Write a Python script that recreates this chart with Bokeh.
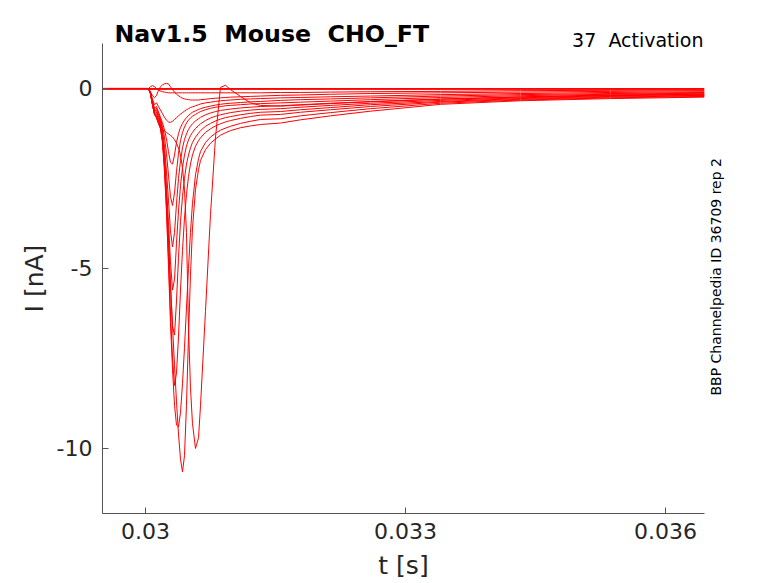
import math
from bokeh.plotting import figure
from bokeh.models import Range1d, FixedTicker, LinearAxis, Title
from bokeh.embed import file_html
from bokeh.resources import INLINE

# ---- data (time in s, current in nA) ----
t_s = [0.029500, 0.030000, 0.030035, 0.030058, 0.030081, 0.030104, 0.030127, 0.030150,
       0.030173, 0.030196, 0.030219, 0.030242, 0.030265, 0.030288, 0.030312, 0.030335,
       0.030358, 0.030381, 0.030404, 0.030427, 0.030450, 0.030473, 0.030496, 0.030519,
       0.030542, 0.030577, 0.030612, 0.030635, 0.030692, 0.030750, 0.030808, 0.030865,
       0.030923, 0.030981, 0.031096, 0.031212, 0.031327, 0.031558, 0.031788, 0.032135,
       0.032596, 0.033404, 0.034327, 0.035365, 0.036450]

trace_01 = [0, 0, 0, 0.05, 0.08, 0.05, 0.0, -0.04, -0.07, -0.09, -0.10, -0.11, -0.12, -0.12, -0.12,
            -0.12, -0.12, -0.12, -0.12, -0.12, -0.12, -0.12, -0.12, -0.12, -0.12, -0.12, -0.12,
            -0.12, -0.12, -0.12, -0.12, -0.12, -0.12, -0.12, -0.12, -0.12, -0.12, -0.11, -0.11,
            -0.10, -0.09, -0.08, -0.06, -0.05, -0.04]
trace_02 = [0, 0, 0, -0.10, -0.20, -0.25, -0.20, -0.05, 0.05, 0.10, 0.13, 0.14, 0.13, 0.05, -0.03,
            -0.10, -0.16, -0.20, -0.24, -0.27, -0.29, -0.30, -0.31, -0.32, -0.32, -0.32, -0.32,
            -0.31, -0.30, -0.28, -0.27, -0.26, -0.25, -0.24, -0.23, -0.22, -0.21, -0.19, -0.18,
            -0.16, -0.14, -0.12, -0.10, -0.08, -0.06]
trace_03 = [0, 0, 0, -0.10, -0.30, -0.45, -0.40, -0.50, -0.60, -0.70, -0.80, -0.88, -0.93, -0.94,
            -0.91, -0.86, -0.81, -0.76, -0.71, -0.67, -0.63, -0.59, -0.56, -0.53, -0.51, -0.48,
            -0.45, -0.43, -0.40, -0.38, -0.36, -0.34, -0.33, -0.32, -0.30, -0.29, -0.28, -0.26,
            -0.25, -0.23, -0.21, -0.17, -0.14, -0.11, -0.09]
trace_04 = [0, 0, 0, -0.12, -0.35, -0.55, -0.50, -0.65, -0.80, -0.95, -1.15, -1.40, -1.75, -2.05,
            -2.10, -1.85, -1.50, -1.25, -1.08, -0.97, -0.88, -0.81, -0.75, -0.70, -0.66, -0.62,
            -0.58, -0.56, -0.52, -0.49, -0.46, -0.44, -0.42, -0.41, -0.39, -0.37, -0.36, -0.33,
            -0.31, -0.29, -0.26, -0.21, -0.17, -0.14, -0.11]
trace_05 = [0, 0, 0, -0.12, -0.37, -0.60, -0.55, -0.70, -0.85, -1.05, -1.35, -1.80, -2.40, -3.00,
            -3.25, -2.90, -2.30, -1.80, -1.45, -1.22, -1.07, -0.96, -0.88, -0.82, -0.77, -0.72,
            -0.67, -0.64, -0.59, -0.55, -0.52, -0.50, -0.48, -0.47, -0.45, -0.43, -0.42, -0.40,
            -0.38, -0.35, -0.31, -0.25, -0.20, -0.16, -0.13]
trace_06 = [0, 0, 0, -0.13, -0.40, -0.63, -0.60, -0.75, -0.90, -1.15, -1.60, -2.30, -3.10, -3.95,
            -4.40, -4.00, -3.20, -2.50, -2.00, -1.65, -1.42, -1.26, -1.14, -1.05, -0.98, -0.90,
            -0.84, -0.80, -0.73, -0.68, -0.64, -0.61, -0.59, -0.57, -0.54, -0.52, -0.50, -0.48,
            -0.45, -0.41, -0.36, -0.29, -0.23, -0.18, -0.15]
trace_07 = [0, 0, 0, -0.13, -0.42, -0.66, -0.65, -0.80, -0.95, -1.25, -1.80, -2.70, -3.70, -4.80,
            -5.60, -5.30, -4.30, -3.40, -2.70, -2.20, -1.85, -1.60, -1.43, -1.31, -1.22, -1.11,
            -1.03, -0.98, -0.89, -0.82, -0.77, -0.73, -0.70, -0.67, -0.63, -0.60, -0.58, -0.56,
            -0.52, -0.47, -0.41, -0.33, -0.26, -0.20, -0.17]
trace_08 = [0, 0, 0, -0.14, -0.44, -0.70, -0.70, -0.85, -1.00, -1.35, -2.00, -3.00, -4.20, -5.50,
            -6.60, -6.85, -5.90, -4.70, -3.70, -3.00, -2.50, -2.10, -1.85, -1.65, -1.50, -1.35,
            -1.24, -1.17, -1.05, -0.97, -0.90, -0.85, -0.81, -0.78, -0.73, -0.69, -0.66, -0.64,
            -0.59, -0.53, -0.45, -0.36, -0.28, -0.22, -0.19]
trace_09 = [0, 0, 0, -0.14, -0.45, -0.72, -0.75, -0.90, -1.05, -1.45, -2.20, -3.30, -4.70, -6.20,
            -7.50, -8.25, -7.90, -6.90, -5.60, -4.50, -3.60, -2.95, -2.45, -2.10, -1.85, -1.60,
            -1.45, -1.37, -1.22, -1.12, -1.04, -0.98, -0.93, -0.89, -0.83, -0.78, -0.74, -0.72,
            -0.66, -0.59, -0.50, -0.38, -0.30, -0.24, -0.20]
trace_10 = [0, 0, 0, -0.15, -0.45, -0.72, -0.80, -0.95, -1.10, -1.50, -2.30, -3.40, -4.90, -6.50,
            -7.80, -8.80, -9.35, -9.40, -9.00, -8.20, -7.20, -6.10, -5.00, -4.00, -3.20, -2.40,
            -1.95, -1.75, -1.50, -1.35, -1.24, -1.16, -1.10, -1.05, -0.97, -0.91, -0.86, -0.84,
            -0.76, -0.67, -0.56, -0.41, -0.32, -0.26, -0.22]
trace_11 = [0, 0, 0, -0.15, -0.46, -0.73, -0.82, -0.98, -1.12, -1.45, -2.10, -3.00, -4.10, -5.40,
            -6.60, -7.70, -8.70, -9.60, -10.30, -10.65, -10.20, -8.80, -6.90, -5.20, -3.90, -2.80,
            -2.25, -2.00, -1.70, -1.52, -1.40, -1.30, -1.23, -1.17, -1.09, -1.04, -1.00, -0.96,
            -0.87, -0.76, -0.63, -0.44, -0.34, -0.28, -0.24]
trace_12 = [0, 0, 0, -0.15, -0.45, -0.70, -0.80, -0.95, -1.05, -1.12, -1.18, -1.22, -1.26, -1.30,
            -1.35, -1.42, -1.52, -1.65, -1.85, -2.20, -2.80, -4.00, -6.60, -8.30, -9.30, -10.00,
            -9.70, -8.80, -6.20, -3.50, -1.35, 0.03, 0.09, -0.03, -0.22, -0.40, -0.47, -0.49,
            -0.46, -0.42, -0.37, -0.30, -0.24, -0.19, -0.16]

flat_t = [0.029500, 0.036450]
flat_01 = [0.0, 0.0]
flat_02 = [-0.025, -0.025]

active = [trace_01, trace_02, trace_03, trace_04, trace_05, trace_06, trace_07,
          trace_08, trace_09, trace_10, trace_11, trace_12]
flats = [flat_01, flat_02]

x_ticks = [0.030, 0.033, 0.036]
x_tick_labels = ["0.03", "0.033", "0.036"]
y_ticks = [-10, -5, 0]
y_tick_labels = ["-10", "-5", "0"]

title_text = "Nav1.5  Mouse  CHO_FT"
subtitle_text = "37  Activation"
side_text = "BBP Channelpedia ID 36709 rep 2"


def keep_spaces(s):
    # keep the double spaces visible in SVG text
    return s.replace("  ", " \u00a0")


# ---- figure ----
p = figure(width=778, height=583, output_backend="svg", toolbar_location=None,
           x_range=Range1d(0.029504, 0.03645), y_range=Range1d(-11.806, 1.25),
           min_border_left=102, min_border_right=74, min_border_top=43, min_border_bottom=70)
p.outline_line_color = None
p.grid.visible = False
p.background_fill_color = "white"
p.border_fill_color = "white"

for ys in flats:
    p.line(flat_t, ys, line_color="red", line_width=1)
for ys in active:
    p.line(t_s, ys, line_color="red", line_width=1)

ax_col = "#262626"
for ax in (p.xaxis[0], p.yaxis[0]):
    ax.axis_line_color = "#555555"
    ax.axis_line_width = 1
    ax.major_tick_line_color = "#555555"
    ax.major_tick_in = 6
    ax.major_tick_out = 0
    ax.minor_tick_line_color = None
    ax.major_label_text_font = "DejaVu Sans"
    ax.major_label_text_font_size = "22px"
    ax.major_label_text_color = ax_col
    ax.axis_label_text_font = "DejaVu Sans"
    ax.axis_label_text_font_size = "25px"
    ax.axis_label_text_font_style = "normal"
    ax.axis_label_text_color = ax_col

p.xaxis[0].ticker = FixedTicker(ticks=x_ticks)
p.xaxis[0].major_label_overrides = {t: s for t, s in zip(x_ticks, x_tick_labels)}
p.xaxis[0].axis_label = "t [s]"
p.xaxis[0].major_label_standoff = 9
p.xaxis[0].axis_label_standoff = 9

p.yaxis[0].ticker = FixedTicker(ticks=y_ticks)
p.yaxis[0].major_label_overrides = {t: s for t, s in zip(y_ticks, y_tick_labels)}
p.yaxis[0].axis_label = "I [nA]"
p.yaxis[0].major_label_standoff = 10
p.yaxis[0].axis_label_standoff = 5

# side note, reading bottom-to-top, as a single tick label of a bare right axis
side_y = -8.53
side_ax = LinearAxis(ticker=FixedTicker(ticks=[side_y]),
                     major_label_overrides={side_y: side_text},
                     major_label_orientation=math.pi / 2,
                     axis_line_color=None, major_tick_line_color=None,
                     minor_tick_line_color=None, major_label_standoff=6,
                     major_label_text_font="DejaVu Sans",
                     major_label_text_font_size="14px",
                     major_label_text_color="black")
p.add_layout(side_ax, "right")

# titles
p.title.text = keep_spaces(title_text)
p.title.align = "left"
p.title.offset = 12
p.title.text_font = "DejaVu Sans"
p.title.text_font_size = "23.7px"
p.title.text_font_style = "bold"
p.title.text_color = "black"
p.title.standoff = -27

sub = Title(text=keep_spaces(subtitle_text), align="right", offset=1, standoff=-15,
            text_font="DejaVu Sans", text_font_size="19px", text_font_style="normal",
            text_color="black")
p.add_layout(sub, "above")

open("out.html", "w").write(file_html(p, INLINE))
